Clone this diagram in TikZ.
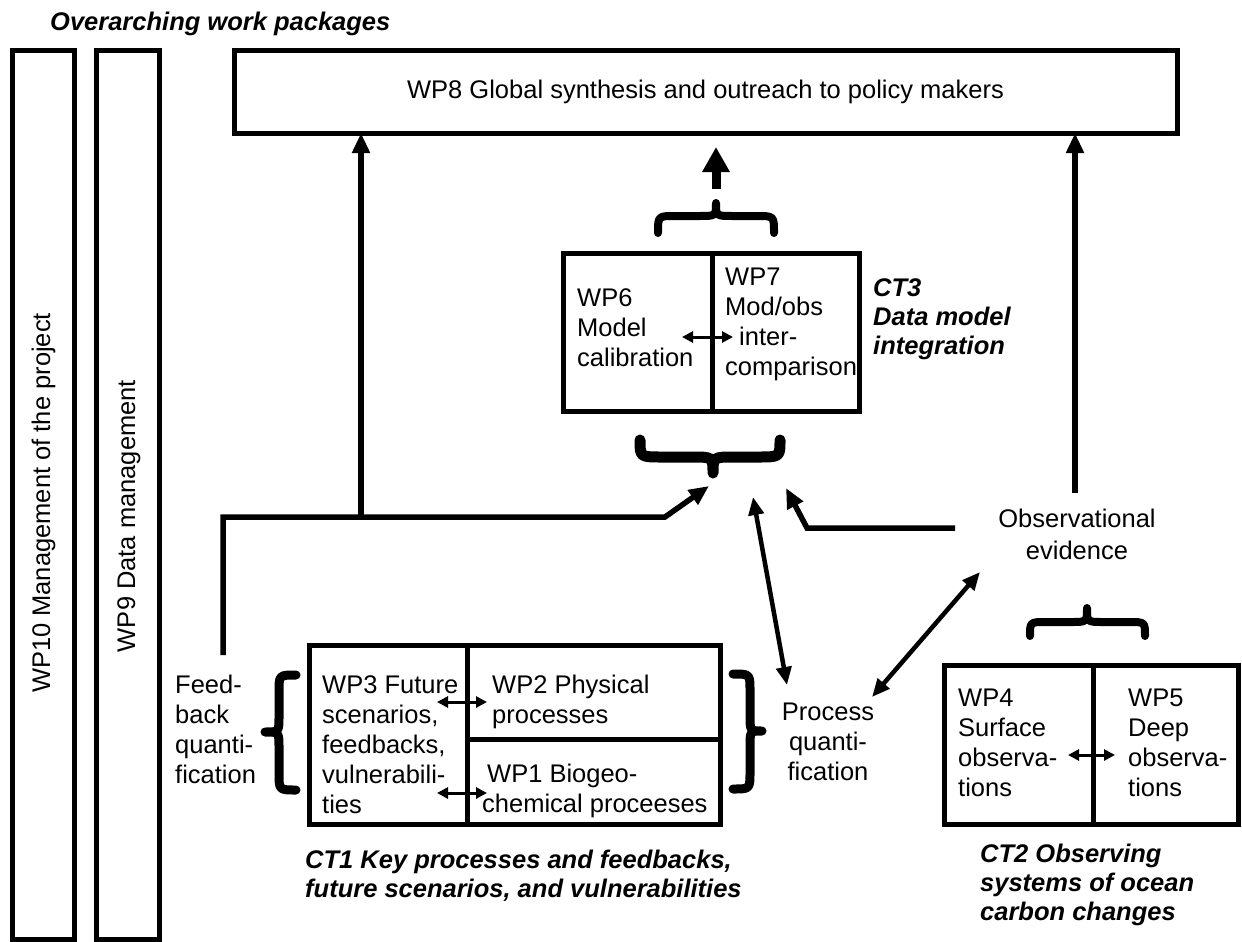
\documentclass[tikz,border=0pt]{standalone}
\usepackage{fontspec}
\setmainfont{Liberation Sans}
\usetikzlibrary{arrows.meta}
\begin{document}
\begin{tikzpicture}[x=1pt,y=-1pt,
  cell/.style={draw, line width=5pt, inner sep=0pt, outer sep=0pt},
  txt/.style={inner sep=0pt, align=left, anchor=north west, font=\fontsize{25.5}{30}\selectfont},
  btxt/.style={txt, font=\fontsize{25.5}{29}\selectfont\bfseries\itshape},
  conn/.style={line width=5.5pt, line join=miter},
  conn2/.style={line width=4.5pt},
  thin/.style={line width=3pt},
  arr/.style={-{Triangle[length=20pt,width=17pt]}},
  dbl/.style={{Triangle[length=18pt,width=15pt]}-{Triangle[length=18pt,width=15pt]}},
  sdbl/.style={{Triangle[length=11pt,width=11pt]}-{Triangle[length=11pt,width=11pt]}},
  brc/.style={line width=8pt, line cap=round, line join=round}
]
\useasboundingbox (0,0) rectangle (1242,942);
\fill[white] (0,0) rectangle (1242,942);

% overarching
\node[btxt] (ovt) at (50,12) {Overarching work packages};
\node[cell, minimum width=62pt, minimum height=888pt] (wp10) at (43,495) {};
\node[cell, minimum width=63pt, minimum height=888pt] (wp9) at (127.5,495) {};
\node[txt, anchor=base, rotate=90] (wp10t) at (50,503) {WP10 Management of the project};
\node[txt, anchor=base, rotate=90] (wp9t) at (135,516) {WP9 Data management};
\node[cell, minimum width=943pt, minimum height=82pt, font=\fontsize{25.5}{30}\selectfont] (wp8) at (705.5,92) {WP8 Global synthesis and outreach to policy makers};

% CT3
\node[cell, minimum width=149pt, minimum height=158pt] (wp6) at (637.5,332) {};
\node[cell, minimum width=147pt, minimum height=158pt] (wp7) at (785.5,332) {};
\node[txt] (wp6t) at (577,288) {WP6\\Model\\calibration};
\node[txt] (wp7t) at (725,268) {WP7\\Mod/obs\\\hspace*{14pt}inter-\\comparison};
\node[btxt] (ct3t) at (873,278) {CT3\\Data model\\integration};

% CT1
\node[cell, minimum width=158pt, minimum height=179pt] (wp3) at (388,734.5) {};
\node[cell, minimum width=253pt, minimum height=94pt] (wp2) at (593.5,692) {};
\node[cell, minimum width=253pt, minimum height=85pt] (wp1) at (593.5,781.5) {};
\node[txt] (wp3t) at (322,675) {WP3 Future\\scenarios,\\feedbacks,\\vulnerabili-\\ties};
\node[txt] (wp2t) at (492,675) {WP2 Physical\\processes};
\node[txt] (wp1t) at (482,764) {\hspace*{5pt}WP1 Biogeo-\\chemical proceeses};
\node[txt] (fbt) at (175,675) {Feed-\\back\\quanti-\\fication};
\node[btxt] (ct1t) at (305,850) {CT1 Key processes and feedbacks,\\future scenarios, and vulnerabilities};
\node[txt, align=center, anchor=north] (prt) at (828,703) {Process\\quanti-\\fication};

% CT2
\node[cell, minimum width=149pt, minimum height=159pt] (wp4) at (1018.5,744.5) {};
\node[cell, minimum width=145pt, minimum height=159pt] (wp5) at (1165.5,744.5) {};
\node[txt] (wp4t) at (958,689) {WP4\\Surface\\observa-\\tions};
\node[txt] (wp5t) at (1128,689) {WP5\\Deep\\observa-\\tions};
\node[btxt] (ct2t) at (980,844) {CT2 Observing\\systems of ocean\\carbon changes};
\node[txt, align=center, anchor=north, font=\fontsize{25.5}{31.5}\selectfont] (obt) at (1077,509) {Observational\\evidence};

% braces
\draw[brc] (658,233) .. controls (658,216) .. (675,216) -- (699,216) .. controls (716,216) .. (716,203) .. controls (716,216) .. (733,216) -- (757,216) .. controls (774,216) .. (774,233);
\draw[brc, line width=11pt] (640,440) .. controls (640,457) .. (662,457) -- (691,457) .. controls (713,457) .. (713,473) .. controls (713,457) .. (735,457) -- (758,457) .. controls (780,457) .. (780,440);
\draw[brc, line width=9pt] (296,675) .. controls (279,675) .. (279,692) -- (279,716) .. controls (279,732) .. (265,732) .. controls (279,732) .. (279,748) -- (279,773) .. controls (279,790) .. (296,790);
\draw[brc, line width=9pt] (733,674) .. controls (750,674) .. (750,691) -- (750,715) .. controls (750,731) .. (762,731) .. controls (750,731) .. (750,747) -- (750,772) .. controls (750,789) .. (733,789);
\draw[brc] (1030,636) .. controls (1030,622) .. (1046,622) -- (1071,622) .. controls (1087,622) .. (1087,608) .. controls (1087,622) .. (1103,622) -- (1129,622) .. controls (1145,622) .. (1145,636);

% coordinates
\coordinate (fbtop) at (223,655);
\coordinate (bend1) at (665,517);
\coordinate (t3a) at (709,486);
\coordinate (up1) at (361,519);
\coordinate (obl) at (955,528);
\coordinate (bend2) at (807,528);
\coordinate (t3c) at (786,488);
\coordinate (up2) at (1075,493);
\coordinate (t3b) at (753,497);
\coordinate (prq) at (787,685);
\coordinate (obq) at (980,572);
\coordinate (prr) at (872,697);
\coordinate (bigs) at (716,189);
\coordinate (bige) at (716,147);
\coordinate (a6) at (682,337);
\coordinate (a7) at (733,337);
\coordinate (a3a) at (437,702);
\coordinate (a2) at (487,702);
\coordinate (a3b) at (437,793);
\coordinate (a1) at (487,793);
\coordinate (a4) at (1068,755);
\coordinate (a5) at (1115,755);

% connectors
\draw[conn, arr] (fbtop) |- (bend1) -- (t3a);
\draw[conn, arr] (up1) -- (up1 |- wp8.south);
\draw[conn, arr] (obl) -- (bend2) -- (t3c);
\draw[conn, arr] (up2) -- (up2 |- wp8.south);
\draw[conn2, dbl] (t3b) -- (prq);
\draw[conn2, dbl] (obq) -- (prr);
\draw[line width=9pt, -{Triangle[length=25pt,width=26pt]}] (bigs) -- (bige);
\draw[thin, sdbl] (a6) -- (a7);
\draw[thin, sdbl] (a3a) -- (a2);
\draw[thin, sdbl] (a3b) -- (a1);
\draw[thin, sdbl] (a4) -- (a5);
\end{tikzpicture}
\end{document}
